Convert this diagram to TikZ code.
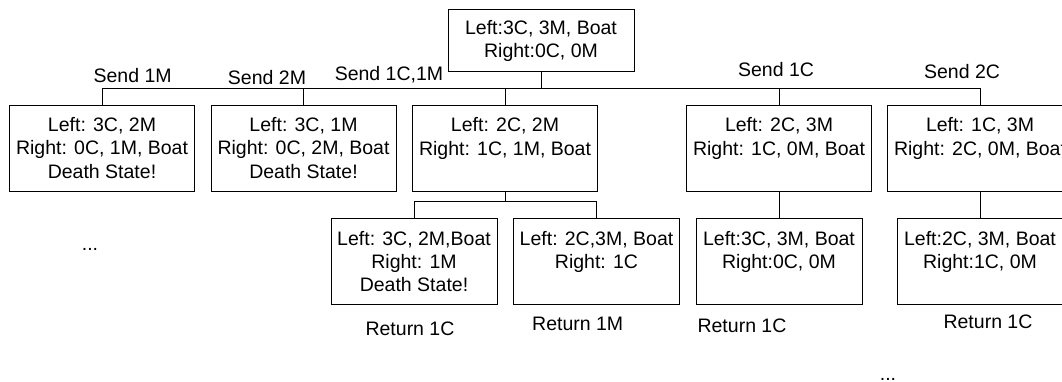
\documentclass[tikz,border=0pt]{standalone}
\usepackage{fontspec}
\setmainfont{Liberation Sans}
\usetikzlibrary{positioning}

\begin{document}
\begin{tikzpicture}[x=1pt, y=-1pt,
  every node/.style={font=\fontsize{19.5}{23.4}\selectfont},
  state/.style={draw, line width=0.9pt, align=center, inner sep=0pt, minimum height=86pt},
  wide/.style={state, minimum width=185pt},
  narrow/.style={state, minimum width=166pt},
  move/.style={inner sep=0pt},
  link/.style={line width=0.9pt}
]
\useasboundingbox (0,0) rectangle (1062,382);
\def\rowA{148} \def\rowB{261.5}
\coordinate (busA) at (0,88.5);
\coordinate (busB) at (0,201.4);
\node[state, minimum width=186pt, minimum height=62pt] (root) at (541,40.8) {Left:3C, 3M, Boat\\Right:0C, 0M};
\node[wide] (s1) at (102,\rowA) {Left: 3C, 2M\\Right: 0C, 1M, Boat\\Death State!};
\node[wide] (s2) at (303.5,\rowA) {Left: 3C, 1M\\Right: 0C, 2M, Boat\\Death State!};
\node[wide] (s3) at (505,\rowA) {Left: 2C, 2M\\Right: 1C, 1M, Boat\\~};
\node[wide] (s4) at (779,\rowA) {Left: 2C, 3M\\Right: 1C, 0M, Boat\\~};
\node[wide] (s5) at (980,\rowA) {Left: 1C, 3M\\Right: 2C, 0M, Boat\\~};
\node[narrow] (s6) at (414,\rowB) {Left: 3C, 2M,Boat\\Right: 1M\\Death State!};
\node[narrow] (s7) at (596.5,\rowB) {Left: 2C,3M, Boat\\Right: 1C\\~};
\node[narrow] (s8) at (779,\rowB) {Left:3C, 3M, Boat\\Right:0C, 0M\\~};
\node[narrow] (s9) at (980,\rowB) {Left:2C, 3M, Boat\\Right:1C, 0M\\~};
\foreach \n in {s1,s2,s3,s4,s5}{
  \draw[link] (root.south) |- (\n.north |- busA) -- (\n.north);
}
\foreach \n in {s6,s7}{
  \draw[link] (s3.south) |- (\n.north |- busB) -- (\n.north);
}
\draw[link] (s4.south) -- (s8.north);
\draw[link] (s5.south) -- (s9.north);
\node[move] (send1) at (132.6,76) {Send 1M};
\node[move] (send2) at (267,77.5) {Send 2M};
\node[move] (send3) at (389,74.5) {Send 1C,1M};
\node[move] (send4) at (776,70) {Send 1C};
\node[move] (send5) at (962,72) {Send 2C};
\node[move] (back1) at (410,328.6) {Return 1C};
\node[move] (back2) at (577.7,324) {Return 1M};
\node[move] (back3) at (742,326) {Return 1C};
\node[move] (back4) at (988,321.7) {Return 1C};
\node[move, anchor=base] (more1) at (90,250) {...};
\node[move, anchor=base] (more2) at (888,380) {...};
\end{tikzpicture}
\end{document}
